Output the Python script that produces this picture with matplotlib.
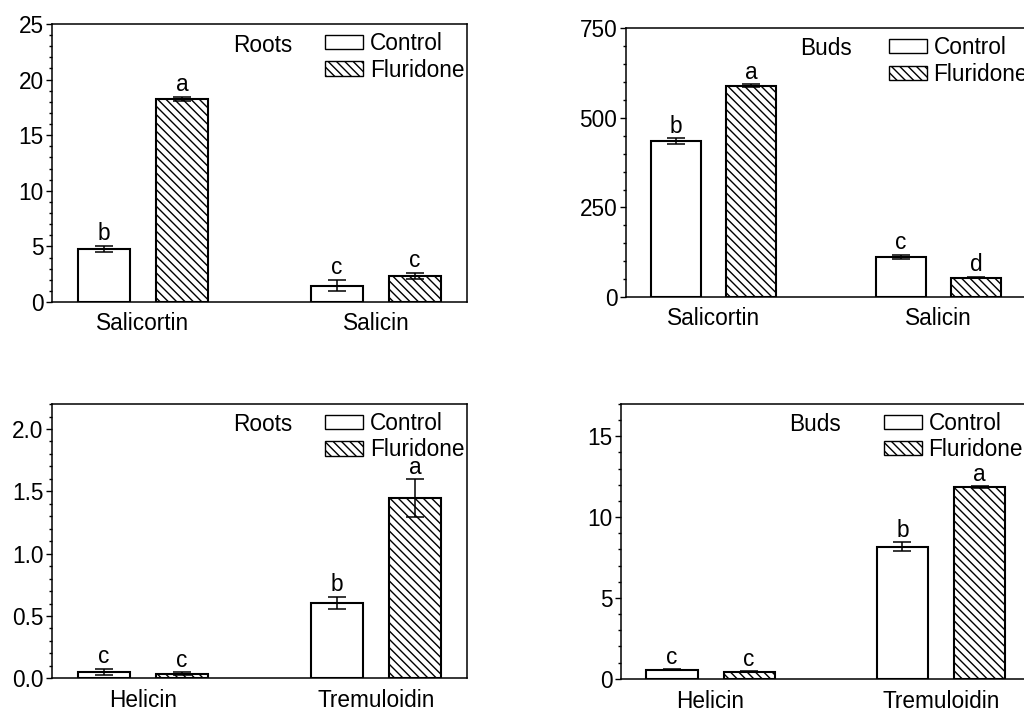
import numpy as np
import matplotlib.pyplot as plt
from matplotlib.patches import Patch
from matplotlib.ticker import MultipleLocator, FormatStrFormatter

plt.rcParams['font.family'] = ['Liberation Sans', 'DejaVu Sans']
plt.rcParams['font.size'] = 16.3
plt.rcParams['hatch.linewidth'] = 1.0

treatments = ['Control', 'Fluridone']

# top row: salicortin / salicin
groups_top = ['Salicortin', 'Salicin']
roots_top_ctrl = [4.8, 1.47]
roots_top_ctrl_err = [0.27, 0.5]
roots_top_flu = [18.3, 2.37]
roots_top_flu_err = [0.18, 0.27]
roots_top_let_ctrl = ['b', 'c']
roots_top_let_flu = ['a', 'c']

buds_top_ctrl = [435, 112]
buds_top_ctrl_err = [8, 5]
buds_top_flu = [590, 54]
buds_top_flu_err = [4, 2]
buds_top_let_ctrl = ['b', 'c']
buds_top_let_flu = ['a', 'd']

# bottom row: helicin / tremuloidin
groups_bot = ['Helicin', 'Tremuloidin']
roots_bot_ctrl = [0.05, 0.606]
roots_bot_ctrl_err = [0.027, 0.05]
roots_bot_flu = [0.037, 1.447]
roots_bot_flu_err = [0.01, 0.15]
roots_bot_let_ctrl = ['c', 'b']
roots_bot_let_flu = ['c', 'a']

buds_bot_ctrl = [0.56, 8.16]
buds_bot_ctrl_err = [0.02, 0.27]
buds_bot_flu = [0.43, 11.85]
buds_bot_flu_err = [0.02, 0.05]
buds_bot_let_ctrl = ['c', 'b']
buds_bot_let_flu = ['c', 'a']

HATCH = '\\\\\\\\'


def panel(ax, groups, ctrl, ctrl_err, flu, flu_err, let_c, let_f, tissue,
          ymax, major, minor, fmt, txt_x, leg_x, xpad):
    x = np.arange(len(groups))
    off = 0.335
    w = 0.222
    ax.bar(x - off / 2, ctrl, w, color='white', edgecolor='black', linewidth=1.5,
           yerr=ctrl_err, capsize=6.5, error_kw=dict(elinewidth=1.1, capthick=1.1))
    ax.bar(x + off / 2, flu, w, color='white', edgecolor='black', linewidth=1.5,
           hatch=HATCH, yerr=flu_err, capsize=6.5,
           error_kw=dict(elinewidth=1.1, capthick=1.1))
    for i in range(len(groups)):
        ax.annotate(let_c[i], (x[i] - off / 2, ctrl[i] + ctrl_err[i]),
                    xytext=(0, 0.5), textcoords='offset points',
                    ha='center', va='bottom')
        ax.annotate(let_f[i], (x[i] + off / 2, flu[i] + flu_err[i]),
                    xytext=(0, 0.5), textcoords='offset points',
                    ha='center', va='bottom')
    ax.set_xlim(-0.39, 1.39)
    ax.set_ylim(0, ymax)
    ax.set_xticks(x)
    ax.set_xticklabels(groups)
    ax.yaxis.set_major_locator(MultipleLocator(major))
    ax.yaxis.set_minor_locator(MultipleLocator(minor))
    ax.yaxis.set_major_formatter(FormatStrFormatter(fmt))
    ax.tick_params(axis='x', length=0, pad=xpad)
    ax.tick_params(axis='y', which='major', length=4.5, width=1.0, pad=1.5)
    ax.tick_params(axis='y', which='minor', length=2.5, width=1.0)
    for s in ax.spines.values():
        s.set_linewidth(1.1)
    ax.text(txt_x, 0.924, tissue, transform=ax.transAxes, ha='center', va='center')
    handles = [Patch(facecolor='white', edgecolor='black', linewidth=1.0),
               Patch(facecolor='white', edgecolor='black', linewidth=1.0, hatch=HATCH)]
    ax.legend(handles, treatments, loc='upper left', bbox_to_anchor=(leg_x, 0.97),
              frameon=False, borderpad=0, borderaxespad=0, handlelength=1.68,
              handleheight=0.58, handletextpad=0.3, labelspacing=0.14)


fig = plt.figure(figsize=(10.24, 7.08), dpi=100)
ax1 = fig.add_axes([0.0508, 0.5734, 0.4053, 0.3927])
ax2 = fig.add_axes([0.611, 0.5805, 0.3911, 0.3795])
ax3 = fig.add_axes([0.0508, 0.0419, 0.4053, 0.3874])
ax4 = fig.add_axes([0.6061, 0.0414, 0.4007, 0.388])

panel(ax1, groups_top, roots_top_ctrl, roots_top_ctrl_err, roots_top_flu, roots_top_flu_err,
      roots_top_let_ctrl, roots_top_let_flu, 'Roots', 25, 5, 1, '%d', 0.508, 0.658, 7.5)
panel(ax2, groups_top, buds_top_ctrl, buds_top_ctrl_err, buds_top_flu, buds_top_flu_err,
      buds_top_let_ctrl, buds_top_let_flu, 'Buds', 750, 250, 50, '%d', 0.50, 0.657, 7.5)
panel(ax3, groups_bot, roots_bot_ctrl, roots_bot_ctrl_err, roots_bot_flu, roots_bot_flu_err,
      roots_bot_let_ctrl, roots_bot_let_flu, 'Roots', 2.2, 0.5, 0.1, '%.1f', 0.508, 0.658, 8)
panel(ax4, groups_bot, buds_bot_ctrl, buds_bot_ctrl_err, buds_bot_flu, buds_bot_flu_err,
      buds_bot_let_ctrl, buds_bot_let_flu, 'Buds', 17, 5, 1, '%d', 0.473, 0.641, 8)

fig.savefig('out.png', dpi=100)
